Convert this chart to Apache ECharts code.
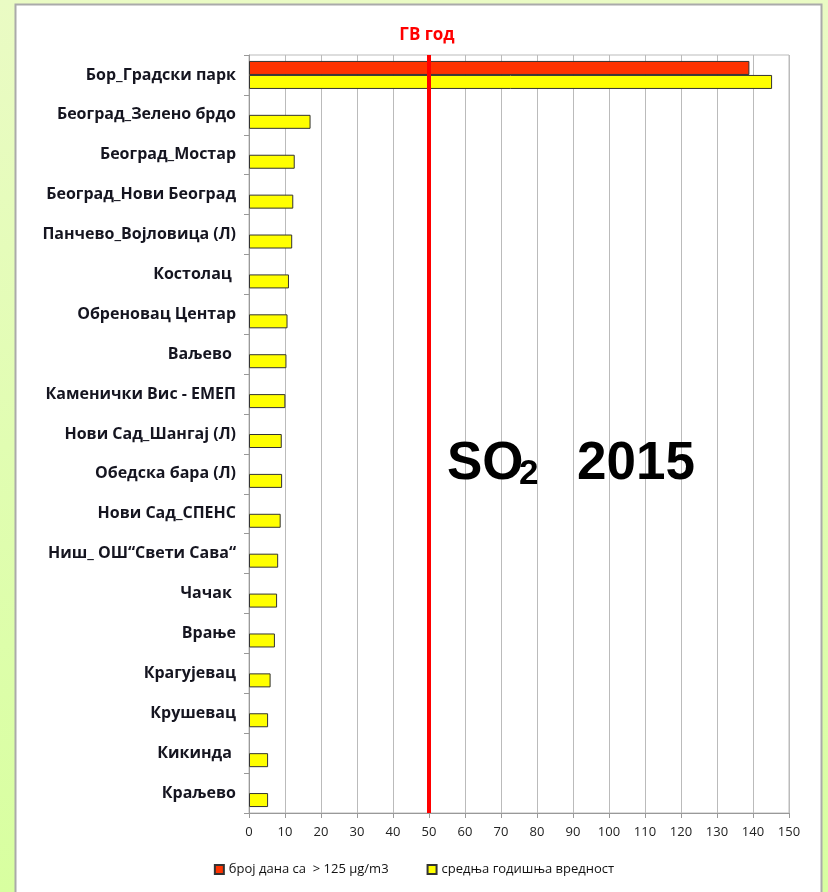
<!DOCTYPE html>
<html>
<head>
<meta charset="utf-8">
<script src="https://cdn.jsdelivr.net/npm/echarts@6/dist/echarts.min.js"></script>
<style>
html,body{margin:0;padding:0;}
#main{width:828px;height:892px;}
</style>
</head>
<body>
<div id="main"></div>
<script>
const categories = [
  'Бор_Градски парк','Београд_Зелено брдо','Београд_Мостар','Београд_Нови Београд',
  'Панчево_Војловица (Л)','Костолац ','Обреновац Центар','Ваљево ','Каменички Вис - ЕМЕП',
  'Нови Сад_Шангај (Л)','Обедска бара (Л)','Нови Сад_СПЕНС','Ниш_ ОШ“Свети Сава“',
  'Чачак ','Врање','Крагујевац','Крушевац','Кикинда ','Краљево'
];
const daysOver125 = [139,'-','-','-','-','-','-','-','-','-','-','-','-','-','-','-','-','-','-'];
const annualMean = [145.3,17.1,12.7,12.3,12.0,11.1,10.7,10.4,10.1,9.1,9.2,8.8,8.1,7.8,7.2,6.0,5.3,5.3,5.3];
const limitValue = [50];
const xTicks = {min:0, max:150, interval:10};
const seriesNames = ['број дана са  > 125 μg/m3','средња годишња вредност'];

const chart = echarts.init(document.getElementById('main'));
const labelFont = '"Open Sans", Lato, "Liberation Sans", sans-serif';
const bigFont = '"Liberation Sans", Arial, sans-serif';
chart.setOption({
  animation:false,
  backgroundColor:{type:'linear',x:0,y:0,x2:0,y2:1,colorStops:[{offset:0,color:'#EAFBC4'},{offset:1,color:'#D8FFA0'}]},
  graphic:[
    {type:'rect',z:-10,shape:{x:15.5,y:4.5,width:806,height:900},style:{fill:'#ffffff',stroke:'#AAAAAA',lineWidth:2}},
    {type:'text',z:10,x:447,y:438,style:{text:'SO',font:'bold 53px '+bigFont,fill:'#000'}},
    {type:'text',z:10,x:519,y:457,style:{text:'2',font:'bold 35px '+bigFont,fill:'#000'}},
    {type:'text',z:10,x:577,y:438,style:{text:'2015',font:'bold 53px '+bigFont,fill:'#000'}}
  ],
  title:{text:'ГВ год',left:422,top:22,textAlign:'center',
    textStyle:{color:'#FF0000',fontSize:17,fontWeight:'bold',fontFamily:labelFont}},
  legend:{
    bottom:11,left:'center',itemWidth:9,itemHeight:9,itemGap:38,icon:'rect',
    textStyle:{fontSize:13,color:'#111',fontFamily:labelFont},
    data:seriesNames
  },
  grid:{left:249,right:39,top:55,bottom:79,show:true,borderColor:'#BBBBBB',borderWidth:1,containLabel:false},
  xAxis:{
    type:'value',min:xTicks.min,max:xTicks.max,interval:xTicks.interval,
    axisLine:{show:true,lineStyle:{color:'#999',width:1}},
    axisTick:{show:true,length:5,lineStyle:{color:'#999'}},
    axisLabel:{margin:13,fontSize:13,color:'#222',fontFamily:labelFont},
    splitLine:{show:true,lineStyle:{color:'#BBBBBB',width:1}}
  },
  yAxis:{
    type:'category',inverse:true,data:categories,
    axisLine:{show:true,lineStyle:{color:'#999',width:1}},
    axisTick:{show:true,length:5,lineStyle:{color:'#999'}},
    axisLabel:{margin:13,fontSize:16,fontWeight:'bold',color:'#151520',fontFamily:labelFont,padding:[6,0,0,0]},
    splitLine:{show:false}
  },
  series:[
    {name:seriesNames[0],type:'bar',data:daysOver125,barWidth:14,barGap:'0%',
      itemStyle:{color:'#FF3300',borderColor:'#333',borderWidth:1}},
    {name:seriesNames[1],type:'bar',data:annualMean,barWidth:14,barGap:'0%',
      itemStyle:{color:'#FFFF00',borderColor:'#333',borderWidth:1},
      markLine:{silent:true,symbol:'none',label:{show:false},
        lineStyle:{color:'#FF0000',width:4,type:'solid'},
        data:limitValue.map(v=>({xAxis:v}))}}
  ]
});
</script>
</body>
</html>
